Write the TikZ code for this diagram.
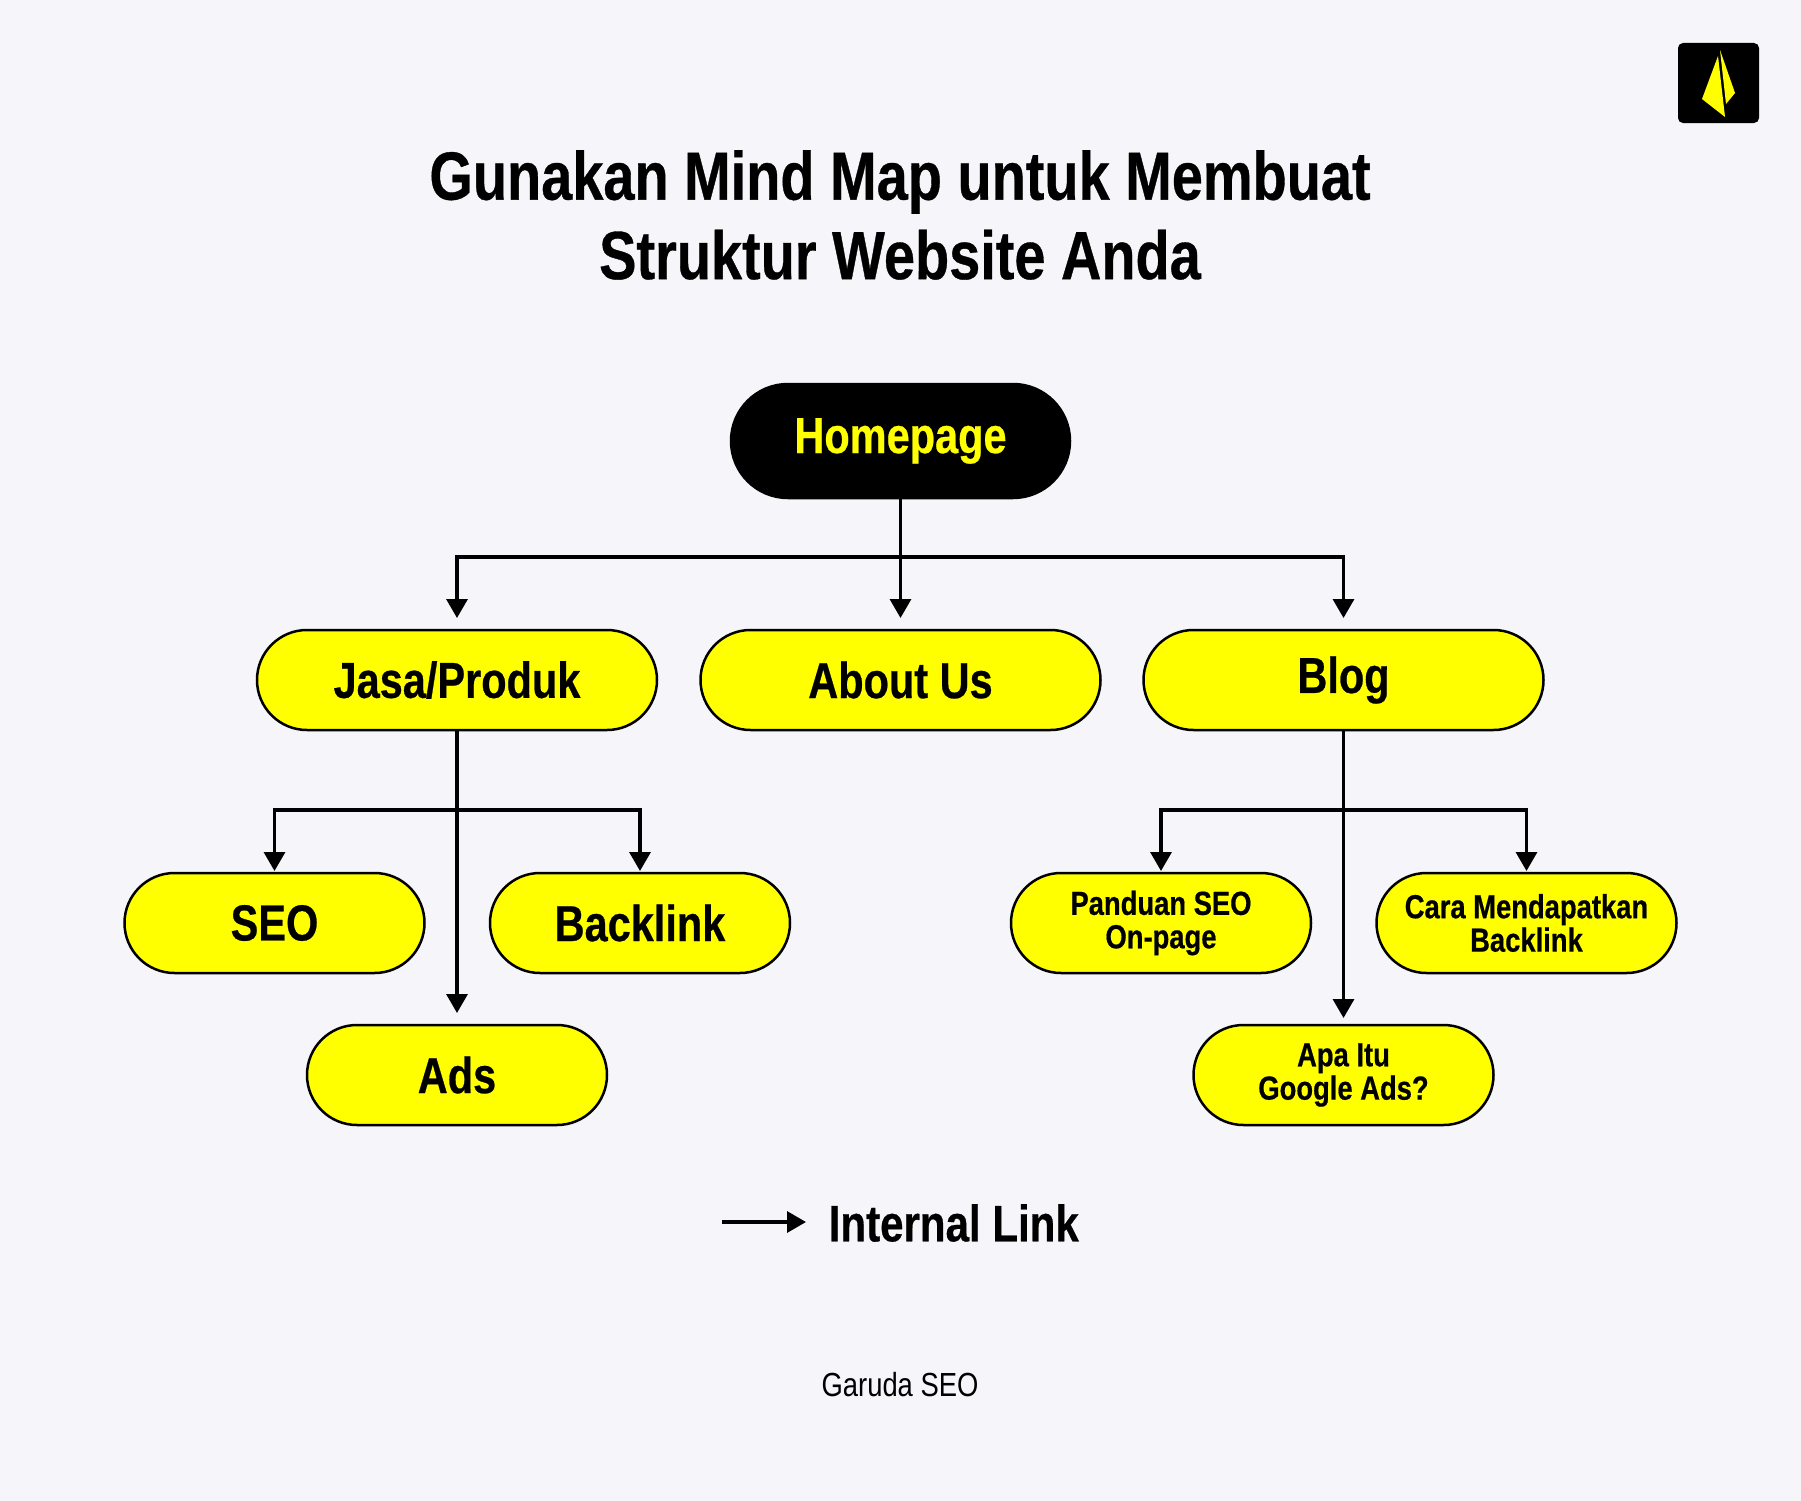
\documentclass[tikz,border=0pt]{standalone}
\usepackage{fontspec}
\usepackage{xcolor}
\usepackage{tikz}
\usetikzlibrary{arrows.meta}
\setmainfont{Liberation Sans}[FakeStretch=0.82, BoldFeatures={FakeBold=0.5}]
\definecolor{pagebg}{HTML}{F5F5FA}
\definecolor{boxyellow}{HTML}{FFFF00}
\tikzset{
  pill/.style={draw=black, line width=0.25mm, fill=boxyellow, rounded corners=0.5cm, minimum height=1cm, inner sep=0pt, outer sep=0pt, align=center, font=\fontsize{14.4}{14.4}\selectfont\bfseries},
  bigpill/.style={pill, minimum width=4cm},
  smallpill/.style={pill, minimum width=3cm},
  smalltext/.style={font=\fontsize{9.5}{9.5}\selectfont\bfseries},
  wire/.style={line width=0.33mm, black},
  linkarrow/.style={wire, -{Triangle[width=2.1mm,length=1.9mm]}, shorten >=#1},
  linkarrow/.default=1.2mm
}
\begin{document}
\begin{tikzpicture}
        \useasboundingbox (0, 0) rectangle (18.01, -15.01);
        \fill[pagebg] (0, 0) rectangle (18.01, -15.01);

        % logo
        \fill[black, rounded corners=0.5mm] (16.78, -0.43) rectangle (17.59, -1.23);
        \fill[boxyellow] (17.18, -0.56) -- (17.02, -0.99) -- (17.25, -1.17) -- cycle;
        \fill[boxyellow] (17.20, -0.50) -- (17.35, -0.93) -- (17.26, -1.04) -- cycle;

        % title
        \node[align=center, font=\fontsize{19.4}{22.6}\selectfont\bfseries] (title) at (9.0, -2.15) {Gunakan Mind Map untuk Membuat\\Struktur Website Anda};

        % boxes
        \node[pill, minimum width=3.39cm, minimum height=1.14cm, rounded corners=0.57cm, fill=black, text=boxyellow] (homepage) at (9.005, -4.41) {Homepage};
        \node[bigpill] (jasa) at (4.57, -6.80) {Jasa/Produk};
        \node[bigpill] (about) at (9.005, -6.80) {About Us};
        \node[bigpill] (blog) at (13.435, -6.80) {Blog};
        \node[smallpill] (seo) at (2.745, -9.23) {SEO};
        \node[smallpill] (backlink) at (6.40, -9.23) {Backlink};
        \node[smallpill] (ads) at (4.57, -10.75) {Ads};
        \node[smallpill, smalltext] (panduan) at (11.61, -9.23) {Panduan SEO\\On-page};
        \node[smallpill, smalltext] (cara) at (15.265, -9.23) {Cara Mendapatkan\\Backlink};
        \node[smallpill, smalltext] (apa) at (13.435, -10.75) {Apa Itu\\Google Ads?};

        % branch points
        \coordinate (hubtop) at (9.005, -5.57);
        \coordinate (hubleft) at (4.57, -8.10);
        \coordinate (hubright) at (13.435, -8.10);

        \draw[wire] (homepage.south) -- (hubtop);
        \draw[linkarrow] (hubtop) -| (jasa.north);
        \draw[linkarrow] (hubtop) -- (about.north);
        \draw[linkarrow] (hubtop) -| (blog.north);

        \draw[linkarrow] (jasa.south) -- (ads.north);
        \draw[linkarrow=0.2mm] (hubleft) -| (seo.north);
        \draw[linkarrow=0.2mm] (hubleft) -| (backlink.north);

        \draw[linkarrow=0.7mm] (blog.south) -- (apa.north);
        \draw[linkarrow=0.2mm] (hubright) -| (panduan.north);
        \draw[linkarrow=0.2mm] (hubright) -| (cara.north);

        % legend
        \coordinate (legendstart) at (7.22, -12.22);
        \node[anchor=west, inner sep=0pt, font=\fontsize{14.6}{14.6}\selectfont\bfseries] (legend) at (8.28, -12.23) {Internal Link};
        \coordinate (legendend) at (8.06, -12.22);
        \draw[wire, -{Triangle[width=2.1mm,length=1.9mm]}] (legendstart) -- (legendend);

        \node[font=\fontsize{9.5}{9.5}\selectfont] (credit) at (9.0, -13.85) {Garuda SEO};
    \end{tikzpicture}
\end{document}
